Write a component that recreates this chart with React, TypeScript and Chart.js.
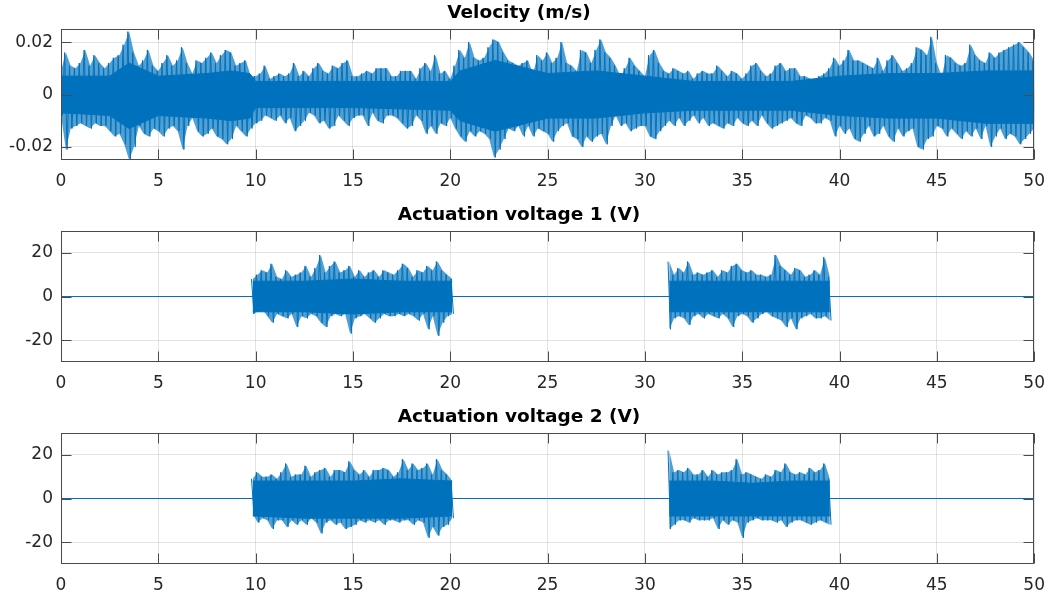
import React, { useEffect, useRef } from "react";
import { Chart, registerables } from "chart.js";

Chart.register(...registerables);

// ---------- data ----------
const SAMPLE_DT = 0.25; // s, spacing of the envelope samples
const X_MIN = 0;
const X_MAX = 50;
const X_TICKS = [0, 5, 10, 15, 20, 25, 30, 35, 40, 45, 50];

const VEL_TITLE = "Velocity (m/s)";
const VEL_RANGE = [-0.025, 0.025];
const VEL_TICKS = [-0.02, 0, 0.02];
const VEL_T0 = 0;
// peak / trough of the velocity signal (m/s) in each 0.25 s window, 0 … 50 s
const VEL_UPPER = [
  0.009, 0.016, 0.011, 0.010, 0.012, 0.017, 0.011, 0.015, 0.012, 0.010,
  0.012, 0.014, 0.015, 0.019, 0.024, 0.016, 0.011, 0.013, 0.017, 0.011,
  0.009, 0.012, 0.015, 0.011, 0.013, 0.018, 0.012, 0.008, 0.013, 0.012,
  0.014, 0.016, 0.012, 0.015, 0.017, 0.016, 0.011, 0.012, 0.013, 0.007,
  0.007, 0.008, 0.011, 0.006, 0.007, 0.008, 0.007, 0.008, 0.012, 0.007,
  0.009,
  0.007, 0.010, 0.012, 0.009, 0.008, 0.011, 0.010, 0.012, 0.013, 0.007,
  0.007, 0.008, 0.009, 0.008, 0.010, 0.010, 0.010, 0.007, 0.007, 0.009,
  0.009, 0.009, 0.006, 0.010, 0.012, 0.009, 0.015, 0.008, 0.009, 0.006,
  0.011, 0.017, 0.014, 0.020, 0.014, 0.013, 0.014, 0.018, 0.021, 0.020,
  0.016, 0.013, 0.012, 0.011, 0.012, 0.013, 0.008, 0.015, 0.013, 0.016,
  0.012, 0.014, 0.020, 0.012, 0.011, 0.009, 0.017, 0.016, 0.012, 0.017,
  0.021, 0.016, 0.014, 0.011, 0.007, 0.010, 0.014, 0.011, 0.009, 0.007,
  0.015, 0.017, 0.012, 0.009, 0.008, 0.010, 0.009, 0.008, 0.009, 0.006,
  0.008, 0.009, 0.008, 0.008, 0.011, 0.009, 0.007, 0.009, 0.008, 0.006,
  0.008, 0.011, 0.012, 0.009, 0.007, 0.008, 0.011, 0.012, 0.009, 0.010,
  0.010, 0.007, 0.007, 0.006, 0.006, 0.007, 0.008, 0.010, 0.014, 0.011,
  0.013, 0.017, 0.013, 0.013, 0.012, 0.011, 0.010, 0.014, 0.009, 0.013,
  0.015, 0.012, 0.009, 0.010, 0.012, 0.018, 0.017, 0.015, 0.022, 0.012,
  0.007, 0.015, 0.014, 0.012, 0.011, 0.012, 0.019, 0.015, 0.013, 0.012,
  0.016, 0.014, 0.016, 0.017, 0.018, 0.019, 0.020, 0.018, 0.016, 0.013,
];
const VEL_LOWER = [
  -0.008, -0.021, -0.013, -0.012, -0.011, -0.012, -0.013, -0.011, -0.012, -0.012,
  -0.014, -0.016, -0.015, -0.019, -0.025, -0.020, -0.012, -0.015, -0.016, -0.013,
  -0.014, -0.016, -0.013, -0.012, -0.014, -0.021, -0.012, -0.009, -0.014, -0.016,
  -0.015, -0.013, -0.016, -0.017, -0.019, -0.017, -0.012, -0.014, -0.016, -0.013,
  -0.011, -0.010, -0.008, -0.009, -0.010, -0.008, -0.011, -0.009, -0.014, -0.012,
  -0.010,
  -0.007, -0.008, -0.011, -0.010, -0.013, -0.012, -0.008, -0.010, -0.012, -0.009,
  -0.008, -0.008, -0.012, -0.007, -0.010, -0.011, -0.008, -0.008, -0.009, -0.011,
  -0.013, -0.012, -0.008, -0.010, -0.015, -0.012, -0.015, -0.011, -0.012, -0.009,
  -0.013, -0.016, -0.018, -0.014, -0.016, -0.014, -0.015, -0.017, -0.024, -0.021,
  -0.017, -0.013, -0.014, -0.012, -0.016, -0.012, -0.016, -0.013, -0.014, -0.015,
  -0.018, -0.014, -0.012, -0.011, -0.016, -0.017, -0.020, -0.016, -0.018, -0.016,
  -0.015, -0.019, -0.012, -0.008, -0.012, -0.011, -0.014, -0.013, -0.012, -0.012,
  -0.016, -0.017, -0.014, -0.012, -0.010, -0.012, -0.009, -0.012, -0.010, -0.008,
  -0.011, -0.009, -0.012, -0.011, -0.012, -0.013, -0.011, -0.012, -0.009, -0.011,
  -0.012, -0.010, -0.012, -0.008, -0.011, -0.013, -0.012, -0.011, -0.010, -0.009,
  -0.011, -0.012, -0.008, -0.009, -0.011, -0.011, -0.009, -0.010, -0.016, -0.012,
  -0.015, -0.013, -0.017, -0.018, -0.015, -0.012, -0.016, -0.015, -0.012, -0.016,
  -0.018, -0.013, -0.016, -0.014, -0.013, -0.020, -0.021, -0.017, -0.016, -0.012,
  -0.013, -0.016, -0.013, -0.015, -0.017, -0.014, -0.016, -0.013, -0.017, -0.012,
  -0.020, -0.016, -0.013, -0.017, -0.015, -0.016, -0.019, -0.017, -0.015, -0.013,
];
// edges of the dense (solid-looking) core of the velocity trace
const VEL_CORE_T = [0, 2.5, 3.5, 5, 7.5, 8.75, 9.7, 10, 15, 20, 20.5, 22.3, 25, 27.5, 30, 32.5, 35, 37.5, 40, 42.5, 45, 47.5, 50];
const VEL_CORE_UPPER = [0.007, 0.007, 0.012, 0.007, 0.008, 0.009, 0.008, 0.005, 0.005, 0.005, 0.009, 0.013, 0.008, 0.009, 0.007, 0.005, 0.005, 0.005, 0.007, 0.008, 0.008, 0.009, 0.009];
const VEL_CORE_LOWER = [-0.007, -0.008, -0.013, -0.008, -0.009, -0.010, -0.009, -0.005, -0.005, -0.006, -0.010, -0.014, -0.009, -0.009, -0.007, -0.006, -0.006, -0.006, -0.008, -0.009, -0.009, -0.011, -0.011];

const VOLT_RANGE = [-30, 30];
const VOLT_TICKS = [-20, 0, 20];
const OFF_LEVEL = 0; // actuation voltage when the actuator is off
const BURST1_T0 = 9.85; // s, start of first burst
const BURST2_T0 = 31.25; // s, start of second burst
const BURST1_CORE_T = [9.85, 12.5, 15, 17.5, 20.1];
const BURST2_CORE_T = [31.25, 33.5, 35.5, 37.5, 39.5];

const V1_TITLE = "Actuation voltage 1 (V)";
const V1_B1_UPPER = [
  8, 10, 12, 11, 15, 9, 8, 12, 9, 10,
  11, 14, 9, 13, 19, 11, 14, 16, 11, 12,
  14, 9, 12, 9, 11, 12, 9, 12, 11, 10,
  12, 15, 13, 9, 12, 11, 14, 12, 16, 12,
  10, 8,
];
const V1_B1_LOWER = [
  -8, -7, -6, -9, -12, -8, -9, -10, -8, -14,
  -9, -10, -8, -9, -12, -14, -9, -8, -9, -8,
  -17, -10, -9, -8, -10, -12, -10, -8, -9, -9,
  -8, -9, -8, -9, -11, -8, -15, -9, -18, -12,
  -9, -8,
];
const V1_B1_CORE_UPPER = [7, 7, 8, 7, 7];
const V1_B1_CORE_LOWER = [-7, -7, -8, -7, -7];
const V1_B2_UPPER = [
  16, 10, 13, 11, 16, 10, 11, 10, 11, 12,
  9, 12, 11, 14, 15, 12, 11, 12, 10, 10,
  9, 10, 19, 14, 12, 10, 13, 12, 9, 10,
  12, 10, 18, 9,
];
const V1_B2_LOWER = [
  -15, -10, -9, -10, -13, -9, -8, -10, -8, -9,
  -10, -8, -10, -14, -9, -8, -9, -12, -10, -8,
  -7, -9, -10, -11, -14, -10, -15, -10, -9, -8,
  -10, -10, -9, -11,
];
const V1_B2_CORE_UPPER = [7, 7, 7, 7, 7];
const V1_B2_CORE_LOWER = [-7, -7, -7, -7, -7];

const V2_TITLE = "Actuation voltage 2 (V)";
const V2_B1_UPPER = [
  9, 12, 10, 10, 11, 9, 12, 16, 10, 11,
  11, 15, 10, 12, 13, 14, 10, 13, 13, 12,
  17, 13, 11, 13, 10, 13, 13, 14, 13, 10,
  12, 18, 13, 16, 13, 14, 16, 11, 18, 13,
  11, 8,
];
const V2_B1_LOWER = [
  -7, -11, -9, -10, -14, -10, -10, -13, -10, -12,
  -10, -12, -9, -11, -16, -11, -10, -12, -11, -14,
  -13, -12, -10, -11, -10, -11, -10, -12, -10, -10,
  -11, -10, -10, -12, -10, -11, -18, -13, -17, -13,
  -12, -9,
];
const V2_B1_CORE_UPPER = [8, 8, 8, 9, 8];
const V2_B1_CORE_LOWER = [-8, -9, -9, -9, -8];
const V2_B2_UPPER = [
  22, 12, 13, 12, 14, 11, 11, 13, 10, 13,
  11, 12, 12, 13, 18, 11, 12, 11, 10, 9,
  11, 10, 13, 12, 16, 12, 11, 12, 11, 14,
  12, 13, 16, 9,
];
const V2_B2_LOWER = [
  -14, -12, -10, -10, -11, -9, -10, -10, -10, -9,
  -14, -10, -12, -10, -11, -18, -11, -10, -9, -10,
  -10, -10, -11, -10, -13, -11, -10, -10, -11, -12,
  -11, -10, -11, -12,
];
const V2_B2_CORE_UPPER = [8, 8, 7, 8, 8];
const V2_B2_CORE_LOWER = [-8, -8, -8, -8, -8];

// ---------- styling ----------
const BLUE = "#0072BD";
const FRINGE = "rgba(0,114,189,0.68)";
const FONT = "'DejaVu Sans', 'Liberation Sans', Arial, sans-serif";
const GRID = "rgba(38,38,38,0.13)";
const AXIS = "#4a4a4a";
const TICK_LEN = 10;

type Pt = { x: number; y: number };

const samples = (t0: number, vals: number[]): Pt[] => vals.map((v, i) => ({ x: t0 + i * SAMPLE_DT, y: v }));
// alternate each window's peak and trough, so the trace swings like the raw signal
const zigzag = (t0: number, upper: number[], lower: number[]): Pt[] =>
  upper.flatMap((u, i) => [
    { x: t0 + i * SAMPLE_DT - SAMPLE_DT / 4, y: u },
    { x: t0 + i * SAMPLE_DT + SAMPLE_DT / 4, y: lower[i] },
  ]);
const pairs = (ts: number[], vals: number[]): Pt[] => ts.map((t, i) => ({ x: t, y: vals[i] }));

function signal(t0: number, upper: number[], lower: number[], coreT: number[], coreUp: number[], coreLo: number[]) {
  return [
    // light envelope (sparse spikes region)
    { data: samples(t0, upper), borderColor: FRINGE, backgroundColor: FRINGE, borderWidth: 0, pointRadius: 0, fill: "+1", tension: 0, order: 4 },
    { data: samples(t0, lower), borderColor: FRINGE, borderWidth: 0, pointRadius: 0, fill: false, tension: 0, order: 4 },
    // swinging trace
    { data: zigzag(t0, upper, lower), borderColor: BLUE, borderWidth: 1, pointRadius: 0, fill: false, tension: 0, order: 2 },
    // dense core
    { data: pairs(coreT, coreUp), borderColor: BLUE, backgroundColor: BLUE, borderWidth: 1, pointRadius: 0, fill: "+1", tension: 0, order: 1 },
    { data: pairs(coreT, coreLo), borderColor: BLUE, borderWidth: 1, pointRadius: 0, fill: false, tension: 0, order: 1 },
  ];
}

const framePlugin = {
  id: "matlabFrame",
  afterDatasetsDraw(chart: any) {
    const { ctx, chartArea: a, scales } = chart;
    const xs = scales.x;
    const ys = scales.y;
    const L = Math.round(a.left) + 0.5;
    const R = Math.round(a.right) - 0.5;
    const T = Math.round(a.top) + 0.5;
    const B = Math.round(a.bottom) - 0.5;
    ctx.save();
    ctx.strokeStyle = AXIS;
    ctx.lineWidth = 1;
    ctx.beginPath();
    for (const t of xs.ticks) {
      const px = Math.round(xs.getPixelForValue(t.value)) + 0.5;
      ctx.moveTo(px, T);
      ctx.lineTo(px, T + TICK_LEN);
      ctx.moveTo(px, B);
      ctx.lineTo(px, B - TICK_LEN);
    }
    for (const t of ys.ticks) {
      const py = Math.round(ys.getPixelForValue(t.value)) + 0.5;
      ctx.moveTo(L, py);
      ctx.lineTo(L + TICK_LEN, py);
      ctx.moveTo(R, py);
      ctx.lineTo(R - TICK_LEN, py);
    }
    ctx.stroke();
    ctx.strokeRect(L, T, R - L, B - T);
    ctx.restore();
  },
};

function makeOptions(title: string, range: number[], yTicks: number[], xHeight: number) {
  return {
    animation: false,
    responsive: false,
    events: [],
    layout: { padding: { left: 0, right: 18, top: 0, bottom: 0 } },
    plugins: {
      legend: { display: false },
      tooltip: { enabled: false },
      title: {
        display: true,
        text: title,
        color: "#000000",
        font: { family: FONT, size: 18.5, weight: "bold", lineHeight: "22px" },
        padding: { top: 2, bottom: 5 },
      },
    },
    scales: {
      x: {
        type: "linear",
        min: X_MIN,
        max: X_MAX,
        afterBuildTicks: (s: any) => {
          s.ticks = X_TICKS.map((v) => ({ value: v }));
        },
        afterFit: (s: any) => {
          s.height = xHeight;
        },
        ticks: {
          autoSkip: false,
          maxRotation: 0,
          padding: 11,
          color: "#262626",
          font: { family: FONT, size: 17 },
          callback: (v: any) => String(v),
        },
        grid: { color: GRID, drawTicks: false, lineWidth: 1 },
        border: { display: false },
      },
      y: {
        type: "linear",
        min: range[0],
        max: range[1],
        afterBuildTicks: (s: any) => {
          s.ticks = yTicks.map((v) => ({ value: v }));
        },
        afterFit: (s: any) => {
          s.width = 61;
        },
        ticks: {
          padding: 8,
          color: "#262626",
          font: { family: FONT, size: 17 },
          callback: (v: any) => String(v),
        },
        grid: { color: GRID, drawTicks: false, lineWidth: 1 },
        border: { display: false },
      },
    },
  };
}

const W = 1056;
const PANELS = [
  { top: 0, height: 202 },
  { top: 202, height: 202 },
  { top: 404, height: 199 },
];
const AREA_BOTTOM = 160; // chart-area bottom inside each canvas

export default function App() {
  const r1 = useRef<HTMLCanvasElement>(null);
  const r2 = useRef<HTMLCanvasElement>(null);
  const r3 = useRef<HTMLCanvasElement>(null);

  useEffect(() => {
    const baseDs = () => ({
      data: [
        { x: X_MIN, y: OFF_LEVEL },
        { x: X_MAX, y: OFF_LEVEL },
      ],
      borderColor: BLUE,
      borderWidth: 1,
      pointRadius: 0,
      fill: false,
      order: 5,
    });

    const c1 = new Chart(r1.current as HTMLCanvasElement, {
      type: "line",
      data: {
        datasets: signal(VEL_T0, VEL_UPPER, VEL_LOWER, VEL_CORE_T, VEL_CORE_UPPER, VEL_CORE_LOWER) as any,
      },
      options: makeOptions(VEL_TITLE, VEL_RANGE, VEL_TICKS, PANELS[0].height - AREA_BOTTOM) as any,
      plugins: [framePlugin],
    });
    const c2 = new Chart(r2.current as HTMLCanvasElement, {
      type: "line",
      data: {
        datasets: [
          baseDs(),
          ...signal(BURST1_T0, V1_B1_UPPER, V1_B1_LOWER, BURST1_CORE_T, V1_B1_CORE_UPPER, V1_B1_CORE_LOWER),
          ...signal(BURST2_T0, V1_B2_UPPER, V1_B2_LOWER, BURST2_CORE_T, V1_B2_CORE_UPPER, V1_B2_CORE_LOWER),
        ] as any,
      },
      options: makeOptions(V1_TITLE, VOLT_RANGE, VOLT_TICKS, PANELS[1].height - AREA_BOTTOM) as any,
      plugins: [framePlugin],
    });
    const c3 = new Chart(r3.current as HTMLCanvasElement, {
      type: "line",
      data: {
        datasets: [
          baseDs(),
          ...signal(BURST1_T0, V2_B1_UPPER, V2_B1_LOWER, BURST1_CORE_T, V2_B1_CORE_UPPER, V2_B1_CORE_LOWER),
          ...signal(BURST2_T0, V2_B2_UPPER, V2_B2_LOWER, BURST2_CORE_T, V2_B2_CORE_UPPER, V2_B2_CORE_LOWER),
        ] as any,
      },
      options: makeOptions(V2_TITLE, VOLT_RANGE, VOLT_TICKS, PANELS[2].height - AREA_BOTTOM) as any,
      plugins: [framePlugin],
    });
    return () => {
      c1.destroy();
      c2.destroy();
      c3.destroy();
    };
  }, []);

  const refs = [r1, r2, r3];
  return (
    <div style={{ position: "absolute", left: 0, top: 0, width: W, height: 603, background: "#ffffff", overflow: "hidden" }}>
      {PANELS.map((p, i) => (
        <canvas
          key={i}
          ref={refs[i]}
          width={W}
          height={p.height}
          style={{ position: "absolute", left: 0, top: p.top, width: W, height: p.height, display: "block" }}
        />
      ))}
    </div>
  );
}
